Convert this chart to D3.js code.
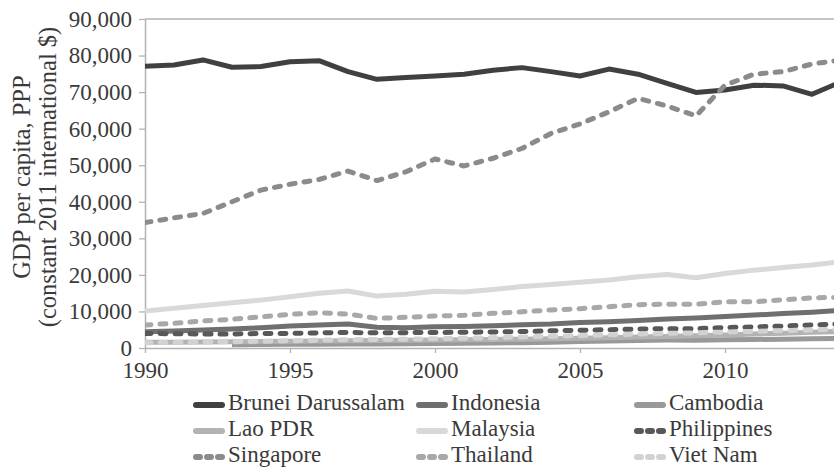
<!DOCTYPE html>
<html>
<head>
<meta charset="utf-8">
<script src="https://cdn.jsdelivr.net/npm/d3@7/dist/d3.min.js"></script>
<style>
  html, body { margin: 0; padding: 0; background: #fff; }
  svg, svg text { font-family: "Liberation Serif", Tinos, "Times New Roman", Times, serif !important; }
  svg { display: block; }
</style>
</head>
<body>
<svg id="chart" width="834" height="468"></svg>
<script>
const years = d3.range(1990, 2015);
const yTicks = [0, 10000, 20000, 30000, 40000, 50000, 60000, 70000, 80000, 90000];
const xTicks = [1990, 1995, 2000, 2005, 2010];

const brunei = [77100, 77400, 78800, 76800, 77000, 78300, 78600, 75600, 73500, 74000, 74400, 74900, 76000, 76700, 75600, 74400, 76300, 74900, 72400, 69900, 70600, 71900, 71700, 69400, 72800];
const indonesia = [4450, 4650, 4900, 5200, 5550, 6000, 6300, 6550, 5650, 5550, 5800, 5900, 6100, 6350, 6550, 7000, 7200, 7550, 7900, 8200, 8650, 9000, 9450, 9800, 10300];
const cambodia = [null, null, null, 900, 950, 1000, 1040, 1070, 1090, 1180, 1250, 1330, 1390, 1470, 1600, 1780, 1930, 2080, 2170, 2130, 2230, 2330, 2420, 2500, 2620];
const lao = [1550, 1580, 1620, 1680, 1750, 1820, 1890, 1970, 2020, 2100, 2170, 2240, 2330, 2420, 2530, 2660, 2820, 2990, 3170, 3360, 3570, 3800, 4040, 4290, 4540];
const malaysia = [10100, 10850, 11600, 12400, 13100, 14000, 15000, 15600, 14200, 14700, 15500, 15300, 16000, 16800, 17400, 18000, 18600, 19500, 20100, 19200, 20400, 21300, 22000, 22700, 23600];
const philippines = [4000, 3900, 3850, 3850, 3950, 4000, 4150, 4250, 4150, 4200, 4250, 4300, 4400, 4500, 4700, 4850, 5000, 5200, 5300, 5300, 5600, 5750, 6000, 6300, 6600];
const singapore = [34300, 35600, 36800, 40000, 43200, 44800, 46100, 48400, 45800, 48200, 51700, 49800, 51900, 54600, 58700, 61300, 64600, 68300, 66200, 63500, 71900, 74900, 75600, 77700, 78800];
const thailand = [6300, 6750, 7400, 7850, 8550, 9200, 9650, 9300, 8100, 8400, 8750, 8950, 9500, 9900, 10400, 10750, 11300, 11850, 12000, 11950, 12650, 12650, 13200, 13700, 13900];
const vietnam = [1450, 1520, 1620, 1720, 1840, 1980, 2130, 2270, 2350, 2420, 2540, 2670, 2820, 2990, 3180, 3380, 3590, 3820, 3990, 4150, 4350, 4560, 4740, 4930, 5150];

const seriesNames = ["Brunei Darussalam", "Indonesia", "Cambodia", "Lao PDR", "Malaysia", "Philippines", "Singapore", "Thailand", "Viet Nam"];
const seriesValues = [brunei, indonesia, cambodia, lao, malaysia, philippines, singapore, thailand, vietnam];
const seriesColors = ["#404040", "#6f6f6f", "#999999", "#b3b3b3", "#d9d9d9", "#585858", "#8b8b8f", "#a8a8a8", "#d2d2d2"];
const seriesDashed = [false, false, false, false, false, true, true, true, true];

const svg = d3.select("#chart");
const W = 834;
const FONT = "'Liberation Serif', Tinos, 'Times New Roman', Times, serif";
const x = d3.scaleLinear().domain([1990, 2014]).range([145, 841]);
const y = d3.scaleLinear().domain([0, 90000]).range([348, 19]);

const axisColor = "#b3b3b3";

svg.append("line").attr("x1", 145).attr("x2", W).attr("y1", y(90000)).attr("y2", y(90000))
  .attr("stroke", axisColor).attr("stroke-width", 1.3);

const yAxis = svg.append("g").attr("transform", "translate(145,0)")
  .call(d3.axisLeft(y).tickValues(yTicks).tickSize(6).tickSizeOuter(0).tickPadding(7)
    .tickFormat(d3.format(",")));
yAxis.attr("font-family", FONT);
yAxis.select(".domain").attr("stroke", axisColor).attr("stroke-width", 1.5);
yAxis.selectAll(".tick line").attr("stroke", axisColor).attr("stroke-width", 1.3);
yAxis.selectAll(".tick text").attr("fill", "#3a3a3a").attr("font-size", 23);

const xAxis = svg.append("g").attr("transform", "translate(0,348)")
  .call(d3.axisBottom(x).tickValues(xTicks).tickSize(5).tickSizeOuter(0).tickPadding(9)
    .tickFormat(d3.format("d")));
xAxis.attr("font-family", FONT);
xAxis.select(".domain").attr("stroke", axisColor).attr("stroke-width", 1.5);
xAxis.selectAll(".tick line").attr("stroke", axisColor).attr("stroke-width", 1.3);
xAxis.selectAll(".tick text").attr("fill", "#3a3a3a").attr("font-size", 23);

const title = svg.append("text").attr("transform", "translate(0,177) rotate(-90)")
  .attr("text-anchor", "middle").attr("fill", "#3a3a3a").attr("font-size", 24.5);
title.append("tspan").attr("x", 0).attr("y", 30).text("GDP per capita, PPP");
title.append("tspan").attr("x", 0).attr("y", 56).text("(constant 2011 international $)");

svg.append("clipPath").attr("id", "plotclip").append("rect")
  .attr("x", 145).attr("y", 0).attr("width", W - 145).attr("height", 360);
const line = d3.line().defined(d => d[1] != null).x(d => x(d[0])).y(d => y(d[1]));
const gLines = svg.append("g").attr("clip-path", "url(#plotclip)");
seriesValues.forEach((vals, i) => {
  const pts = years.map((yr, j) => [yr, vals[j]]);
  gLines.append("path").datum(pts).attr("d", line)
    .attr("fill", "none").attr("stroke", seriesColors[i])
    .attr("stroke-width", 5)
    .attr("stroke-linejoin", "round")
    .attr("stroke-linecap", seriesDashed[i] ? "round" : "butt")
    .attr("stroke-dasharray", seriesDashed[i] ? "6,9" : null);
});

const colX = [193, 416, 634];
const rowY = [405, 431, 457];
const legend = svg.append("g");
seriesNames.forEach((name, i) => {
  const cx = colX[i % 3], cy = rowY[Math.floor(i / 3)];
  legend.append("line").attr("x1", cx + 3).attr("x2", cx + 29).attr("y1", cy).attr("y2", cy)
    .attr("stroke", seriesColors[i]).attr("stroke-width", 6).attr("stroke-linecap", "round")
    .attr("stroke-dasharray", seriesDashed[i] ? "4,7" : null);
  legend.append("text").attr("x", cx + 35).attr("y", cy + 4.5)
    .attr("fill", "#3a3a3a").attr("font-size", 23).text(name);
});
</script>
</body>
</html>
